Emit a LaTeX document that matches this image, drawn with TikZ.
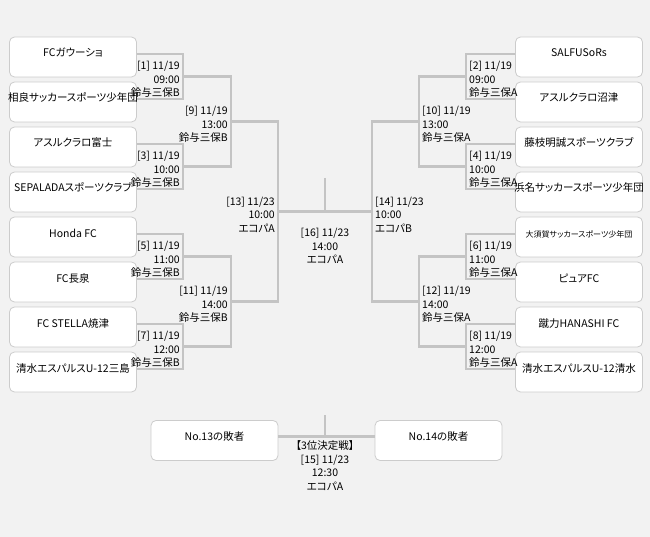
\documentclass[tikz,border=0pt]{standalone}
\usepackage{fontspec}
\setmainfont{Noto Sans CJK JP}[RawFeature=+palt]
\usetikzlibrary{positioning}
\definecolor{bggray}{HTML}{F2F2F2}
\definecolor{linegray}{HTML}{C4C4C4}
\definecolor{boxgray}{HTML}{CCCCCC}
\newcommand{\teamname}[1]{\makebox[0pt]{#1}}

\begin{document}
\begin{tikzpicture}[x=1pt, y=-1pt,
  font=\fontsize{10.5}{13.5}\selectfont,
  team/.style={draw=boxgray, fill=white, rounded corners=5pt, line width=0.8pt,
    minimum width=127pt, minimum height=40pt, inner sep=0pt, text height=20pt, text depth=20pt},
  bline/.style={draw=linegray, line width=2.2pt},
  mleft/.style={inner sep=0pt, align=right, anchor=east, yshift=-3pt},
  mright/.style={inner sep=0pt, align=left, anchor=west, yshift=-3pt}]
\fill[bggray] (0,0) rectangle (650,537);

\foreach \n/\y/\t in {1/57/FCガウーショ, 2/102/相良サッカースポーツ少年団, 3/147/アスルクラロ富士,
  4/192/SEPALADAスポーツクラブ, 5/237/Honda FC, 6/282/FC長泉, 7/327/FC STELLA焼津,
  8/372/清水エスパルスU-12三島}
  \node[team] (L\n) at (73,\y) {\teamname{\t}};
\foreach \n/\y/\t in {1/57/SALFUSoRs, 2/102/アスルクラロ沼津, 3/147/藤枝明誠スポーツクラブ,
  4/192/浜名サッカースポーツ少年団, 5/237/{\fontsize{8}{9}\selectfont 大須賀サッカースポーツ少年団},
  6/282/ピュアFC, 7/327/蹴力HANASHI FC, 8/372/清水エスパルスU-12清水}
  \node[team] (R\n) at (579,\y) {\teamname{\t}};
\node[team] (T13) at (214.5,440.5) {\teamname{No.13の敗者}};
\node[team] (T14) at (438.5,440.5) {\teamname{No.14の敗者}};

\coordinate (m1) at (183,76.5);
\coordinate (m3) at (183,166.5);
\coordinate (m5) at (183,256.5);
\coordinate (m7) at (183,346.5);
\coordinate (m9) at (231,121.5);
\coordinate (m11) at (231,301.5);
\coordinate (m13) at (278,211.5);
\coordinate (m2) at (466,76.5);
\coordinate (m4) at (466,166.5);
\coordinate (m6) at (466,256.5);
\coordinate (m8) at (466,346.5);
\coordinate (m10) at (419,121.5);
\coordinate (m12) at (419,301.5);
\coordinate (m14) at (372,211.5);
\coordinate (top) at (325,178);
\coordinate (top3) at (325,415);
\coordinate (mid3) at (325,436.5);

\foreach \a/\b/\m in {1/2/1, 3/4/3, 5/6/5, 7/8/7}
  \draw[bline] ([yshift=3pt]L\a.east) -| (m\m) |- ([yshift=3pt]L\b.east);
\foreach \a/\b/\m in {1/2/2, 3/4/4, 5/6/6, 7/8/8}
  \draw[bline] ([yshift=3pt]R\a.west) -| (m\m) |- ([yshift=3pt]R\b.west);
\draw[bline] (m1) -| (m9) |- (m3);
\draw[bline] (m5) -| (m11) |- (m7);
\draw[bline] (m2) -| (m10) |- (m4);
\draw[bline] (m6) -| (m12) |- (m8);
\draw[bline] (m9) -| (m13) |- (m11);
\draw[bline] (m10) -| (m14) |- (m12);
\draw[bline] (m13) -- (m14);
\draw[bline] (top) -- (top |- m13);
\draw[bline] ([yshift=4pt]T13.east) -- ([yshift=4pt]T14.west);
\draw[bline] (top3) -- (mid3);

\node[mleft] (g1) at ([xshift=-3pt]m1) {[1] 11/19\\09:00\\鈴与三保B};
\node[mleft] (g3) at ([xshift=-3pt]m3) {[3] 11/19\\10:00\\鈴与三保B};
\node[mleft] (g5) at ([xshift=-3pt]m5) {[5] 11/19\\11:00\\鈴与三保B};
\node[mleft] (g7) at ([xshift=-3pt]m7) {[7] 11/19\\12:00\\鈴与三保B};
\node[mleft] (g9) at ([xshift=-3pt]m9) {[9] 11/19\\13:00\\鈴与三保B};
\node[mleft] (g11) at ([xshift=-3pt]m11) {[11] 11/19\\14:00\\鈴与三保B};
\node[mleft] (g13) at ([xshift=-3pt]m13) {[13] 11/23\\10:00\\エコパA};
\node[mright] (g2) at ([xshift=3pt]m2) {[2] 11/19\\09:00\\鈴与三保A};
\node[mright] (g4) at ([xshift=3pt]m4) {[4] 11/19\\10:00\\鈴与三保A};
\node[mright] (g6) at ([xshift=3pt]m6) {[6] 11/19\\11:00\\鈴与三保A};
\node[mright] (g8) at ([xshift=3pt]m8) {[8] 11/19\\12:00\\鈴与三保A};
\node[mright] (g10) at ([xshift=3pt]m10) {[10] 11/19\\13:00\\鈴与三保A};
\node[mright] (g12) at ([xshift=3pt]m12) {[12] 11/19\\14:00\\鈴与三保A};
\node[mright] (g14) at ([xshift=3pt]m14) {[14] 11/23\\10:00\\エコパB};
\node[inner sep=0pt, align=center, anchor=north] (g16) at (325,228) {[16] 11/23\\14:00\\エコパA};
\node[inner sep=0pt, align=center, anchor=north] (g15) at (325,440.5) {【3位決定戦】\\{}[15] 11/23\\12:30\\エコパA};
\end{tikzpicture}
\end{document}
